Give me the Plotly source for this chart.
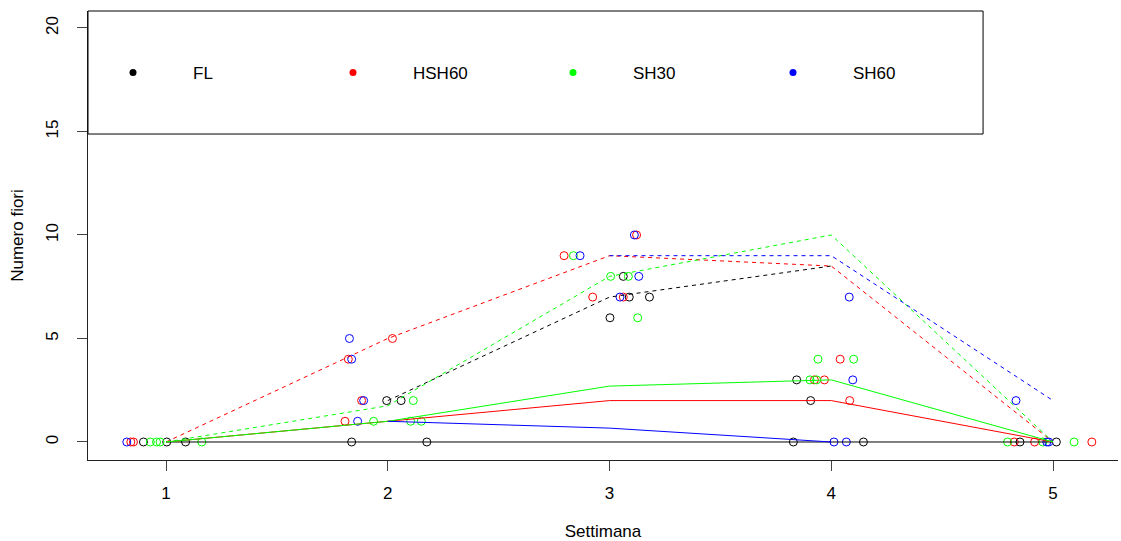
import plotly.graph_objects as go

# ---------------- data ----------------
weeks = [1, 2, 3, 4, 5]
series_names = ["FL", "HSH60", "SH30", "SH60"]
series_colors = ["#000000", "#FF0000", "#00FF00", "#0000FF"]

# jittered observations (x = week + jitter, y = number of flowers)
fl_x = [0.898, 1.003, 1.088, 1.995, 2.060, 1.837, 2.176, 3.062, 3.089, 3.180, 3.002,
        3.844, 3.907, 3.829, 4.145, 4.851, 5.015]
fl_y = [0, 0, 0, 2, 2, 0, 0, 8, 7, 7, 6, 3, 2, 0, 0, 0, 0]

hsh60_x = [0.841, 0.853, 1.822, 2.021, 1.882, 1.807, 3.122, 2.795, 2.924, 3.062,
           4.040, 3.924, 3.969, 4.083, 4.825, 4.917, 5.175]
hsh60_y = [0, 0, 4, 5, 2, 1, 10, 9, 7, 7, 4, 3, 3, 2, 0, 0, 0]

sh30_x = [0.929, 0.957, 0.973, 1.161, 2.115, 1.936, 2.103, 2.151, 2.837, 3.005,
          3.085, 3.127, 3.940, 4.101, 3.904, 3.934, 4.795, 4.954, 5.095]
sh30_y = [0, 0, 0, 0, 2, 1, 1, 1, 9, 8, 8, 6, 4, 4, 3, 3, 0, 0, 0]

sh60_x = [0.823, 1.827, 1.837, 1.891, 1.864, 3.112, 2.867, 3.132, 3.047,
          4.081, 4.097, 4.012, 4.068, 4.833, 4.972, 4.981]
sh60_y = [0, 5, 4, 2, 1, 10, 9, 8, 7, 7, 3, 0, 0, 2, 0, 0]

# summary lines per week (dashed and solid)
fl_dashed = [None, 2, 7, 8.5, None]
fl_solid = [0, 0, 0, 0, 0]
hsh60_dashed = [0, 5, 9, 8.5, 0]
hsh60_solid = [0, 1, 2, 2, 0]
sh30_dashed = [0, 1.75, 8, 10, 0]
sh30_solid = [0, 1, 2.7, 3, 0]
sh60_dashed = [None, None, 9, 9, 2]
sh60_solid = [None, 1, 0.67, 0, None]

y_ticks = [0, 5, 10, 15, 20]

points = [(fl_x, fl_y), (hsh60_x, hsh60_y), (sh30_x, sh30_y), (sh60_x, sh60_y)]
dashed = [fl_dashed, hsh60_dashed, sh30_dashed, sh60_dashed]
solid = [fl_solid, hsh60_solid, sh30_solid, sh60_solid]

FONT = "Liberation Sans, Arial, sans-serif"

fig = go.Figure()

for (px, py), name, col in zip(points, series_names, series_colors):
    fig.add_trace(go.Scatter(x=px, y=py, mode="markers", showlegend=False,
                             marker=dict(symbol="circle-open", size=8, color=col,
                                         line=dict(width=1, color=col)),
                             name=name, cliponaxis=False))

for d, s, name, col in zip(dashed, solid, series_names, series_colors):
    fig.add_trace(go.Scatter(x=weeks, y=d, mode="lines", showlegend=False,
                             line=dict(color=col, width=1, dash="4px,4px"),
                             connectgaps=False, name=name))
    fig.add_trace(go.Scatter(x=weeks, y=s, mode="lines", showlegend=False,
                             line=dict(color=col, width=1),
                             connectgaps=False, name=name))

# legend entries
for name, col in zip(series_names, series_colors):
    fig.add_trace(go.Scatter(x=[None], y=[None], mode="markers", name=name,
                             marker=dict(symbol="circle", size=7, color=col)))

fig.update_layout(
    width=1121, height=541,
    margin=dict(l=88, r=3, t=11, b=81),
    paper_bgcolor="white", plot_bgcolor="white",
    font=dict(family=FONT, size=17, color="#000000"),
    showlegend=True,
    legend=dict(orientation="h", x=0, xanchor="left",
                y=0.862, yanchor="middle", indentation=-15,
                entrywidth=110, entrywidthmode="pixels", itemwidth=110,
                bgcolor="rgba(0,0,0,0)", borderwidth=0,
                font=dict(family=FONT, size=17, color="#000000")),
    shapes=[dict(type="rect", xref="paper", yref="paper", x0=0, x1=0.869,
                 y0=0.726, y1=1, line=dict(color="#000000", width=1),
                 fillcolor="rgba(0,0,0,0)", layer="above")],
)

fig.update_xaxes(range=[0.648, 5.293], tickvals=weeks, ticktext=[str(w) for w in weeks],
                 showgrid=False, zeroline=False, showline=True, linecolor="#222222",
                 linewidth=1, ticks="outside", ticklen=10, tickcolor="#444444",
                 ticklabelstandoff=8,
                 tickfont=dict(family=FONT, size=17, color="#000000"),
                 title=dict(text="Settimana", standoff=22,
                            font=dict(family=FONT, size=17, color="#000000")))
fig.update_yaxes(range=[-0.87, 20.82], tickvals=y_ticks, ticktext=[str(v) for v in y_ticks],
                 showgrid=False, zeroline=False, showline=True, linecolor="#222222",
                 linewidth=1, ticks="outside", ticklen=10, tickcolor="#444444",
                 tickangle=-90, ticklabelstandoff=12,
                 tickfont=dict(family=FONT, size=17, color="#000000"),
                 title=dict(text="Numero fiori", standoff=15,
                            font=dict(family=FONT, size=17, color="#000000")))

fig.write_html("out.html")
